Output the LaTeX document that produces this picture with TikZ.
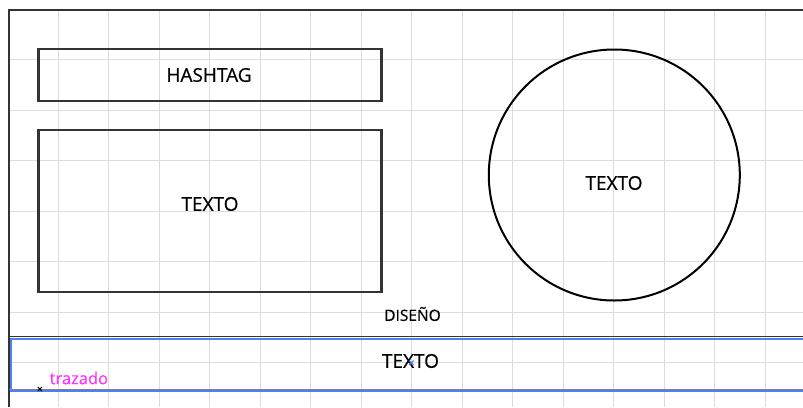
\documentclass[tikz,border=0pt]{standalone}
\usepackage{fontspec}
\setmainfont{Open Sans}
\newfontfamily\lblfont{Open Sans}[FakeBold=0.5]
\definecolor{gridgray}{HTML}{DCDCDC}
\definecolor{framegray}{HTML}{333333}
\definecolor{selblue}{HTML}{4F7FF0}
\definecolor{pathpink}{HTML}{FF33FF}
\tikzset{
  gridline/.style={draw=gridgray, line width=1pt},
  boxshape/.style={draw=framegray, line width=2.2pt, inner sep=0pt},
  label/.style={font=\lblfont\fontsize{19}{19}\selectfont, text=black, inner sep=0pt},
  smalllabel/.style={font=\lblfont\fontsize{15.5}{15.5}\selectfont, text=black, inner sep=0pt},
}
\begin{document}
\begin{tikzpicture}[x=1pt, y=-1pt]
  \useasboundingbox[fill=white] (0,0) rectangle (803,407);

  % background grid
  \foreach \gx in {58.3,108.8,159.3,209.8,260.3,310.8,361.3,411.8,462.3,512.8,563.3,613.8,664.3,714.8,765.3}
    \draw[gridline] (\gx,10) -- (\gx,407);
  \foreach \gy in {59.6,110.1,160.6,211.1,261.6,312.1,362.6}
    \draw[gridline] (9,\gy) -- (803,\gy);

  % artboard frame
  \draw[framegray, line width=2pt] (9,407) -- (9,10) -- (803,10);

  % header box and main text box
  \node[boxshape, minimum width=343pt, minimum height=52pt] (hash) at (210,74.8) {};
  \node[label] (hashtxt) at (209,75) {HASHTAG};
  \node[boxshape, minimum width=343pt, minimum height=162pt] (main) at (210,211.3) {};
  \node[label] (maintxt) at (210,204) {TEXTO};

  % circle
  \node[draw=black, line width=2pt, circle, minimum size=251pt, inner sep=0pt] (circ) at (614.3,175) {};
  \node[label] (circtxt) at (614,183) {TEXTO};

  % footer caption
  \node[smalllabel] (dis) at (412.5,314) {DISEÑO};

  % selected text frame
  \coordinate (bandTL) at (11,338.8);
  \coordinate (bandBR) at (803,391);
  \draw[framegray, line width=1.5pt] (9,336.6) -- (803,336.6);
  \draw[gray, line width=1.5pt] (9,389.4) -- (803,389.4);
  \draw[selblue, line width=1.5pt] (bandBR |- bandTL) -- (bandTL) -- (bandTL |- bandBR) -- (bandBR);
  \node[label] (bandtxt) at (410.5,361) {TEXTO};

  % selection markers
  \node[text=selblue, font=\fontsize{12}{12}\selectfont\bfseries, inner sep=0pt] (xmark) at (411.5,364.5) {×};
  \node[text=black, font=\fontsize{11}{11}\selectfont\bfseries, inner sep=0pt] (anchor) at (40,390) {×};
  \node[text=pathpink, font=\lblfont\fontsize{16.5}{16.5}\selectfont, inner sep=0pt, anchor=west] (traz) at (49.5,378) {trazado};
\end{tikzpicture}
\end{document}
